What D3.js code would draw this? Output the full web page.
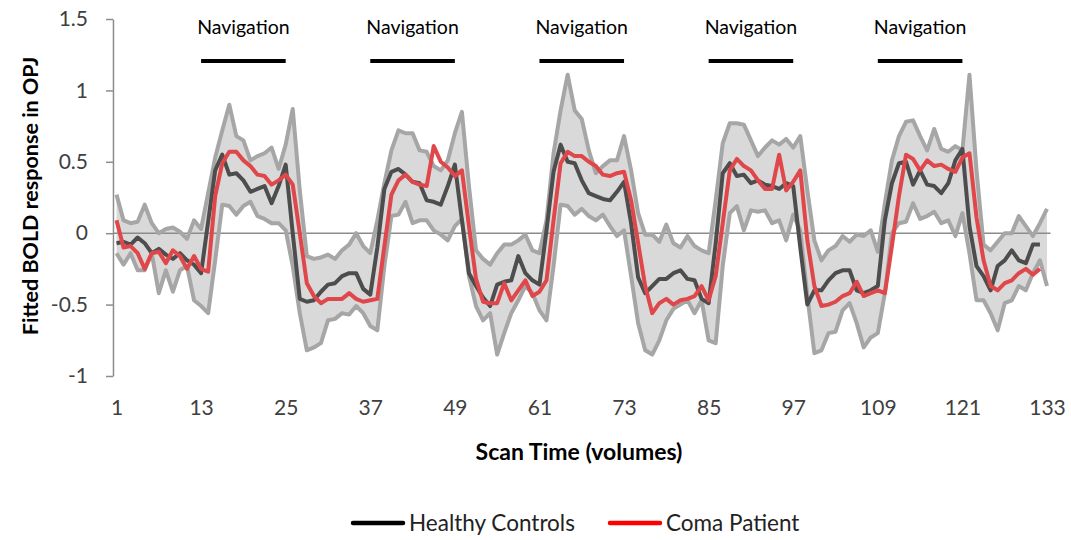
<!DOCTYPE html>
<html>
<head>
<meta charset="utf-8">
<title>Fitted BOLD response in OPJ</title>
<style>
  body, html { margin: 0; padding: 0; background: #fff; }
  #svg { display: block; font-family: Lato, "Open Sans", sans-serif; }
</style>
</head>
<body>
<svg id="svg" width="1071" height="540"></svg>
<script src="https://d3js.org/d3.v7.min.js"></script>
<script>
// x tick labels (scan volumes)
const xTicks = [1, 13, 25, 37, 49, 61, 73, 85, 97, 109, 121, 133]
const yTicks = [-1, -0.5, 0, 0.5, 1, 1.5]
// navigation blocks: start / end volume
const navStart = [13, 37, 61, 85, 109]
const navEnd = [25, 49, 73, 97, 121]

// healthy controls band (upper / lower), volumes 1..133
const upper = [0.27, 0.09, 0.07, 0.08, 0.2, 0.07, 0.0, 0.03, 0.04, 0.01, -0.04, 0.09, 0.03, 0.28, 0.53, 0.72, 0.9, 0.68, 0.65, 0.51,
  0.54, 0.56, 0.6, 0.45, 0.62, 0.87, 0.3, -0.16, -0.18, -0.17, -0.15, -0.18, -0.12, -0.08, 0.0, -0.09, -0.14, 0.09, 0.35, 0.58,
  0.72, 0.7, 0.7, 0.58, 0.57, 0.47, 0.44, 0.51, 0.7, 0.85, 0.33, -0.12, -0.18, -0.22, -0.14, -0.08, -0.08, -0.05, -0.01, -0.12,
  -0.14, 0.09, 0.56, 0.86, 1.11, 0.86, 0.8, 0.58, 0.42, 0.47, 0.51, 0.51, 0.68, 0.44, 0.14, -0.01, -0.01, -0.06, 0.06, -0.07,
  -0.1, -0.02, -0.09, -0.12, -0.14, 0.23, 0.63, 0.77, 0.77, 0.76, 0.65, 0.54, 0.6, 0.65, 0.62, 0.66, 0.6, 0.68, 0.3, -0.05,
  -0.19, -0.12, -0.09, -0.02, -0.06, -0.01, -0.02, 0.02, -0.13, 0.21, 0.51, 0.68, 0.78, 0.79, 0.68, 0.58, 0.73, 0.59, 0.57, 0.61,
  0.58, 1.11, 0.44, -0.08, -0.12, -0.06, 0.0, 0.0, 0.12, 0.05, -0.02, 0.07, 0.17]
const lower = [-0.14, -0.22, -0.14, -0.26, -0.26, -0.14, -0.42, -0.26, -0.41, -0.26, -0.23, -0.47, -0.51, -0.56, -0.19, 0.2, 0.19, 0.13, 0.19, 0.22,
  0.12, 0.1, 0.07, 0.07, 0.02, -0.23, -0.56, -0.82, -0.8, -0.77, -0.61, -0.6, -0.56, -0.57, -0.51, -0.56, -0.65, -0.68, -0.23, 0.12,
  0.13, 0.22, 0.07, 0.09, 0.09, 0.02, -0.01, -0.05, 0.05, 0.1, -0.3, -0.51, -0.61, -0.56, -0.85, -0.7, -0.56, -0.47, -0.37, -0.42,
  -0.54, -0.61, -0.23, 0.2, 0.19, 0.13, 0.17, 0.12, 0.09, 0.13, 0.05, -0.02, 0.02, -0.3, -0.63, -0.82, -0.85, -0.75, -0.61, -0.53,
  -0.5, -0.47, -0.56, -0.47, -0.75, -0.77, -0.23, 0.14, 0.19, 0.02, 0.16, 0.15, 0.16, 0.07, 0.09, -0.05, 0.13, 0.02, -0.44, -0.84,
  -0.82, -0.7, -0.69, -0.54, -0.49, -0.63, -0.8, -0.73, -0.7, -0.42, 0.0, 0.07, 0.08, 0.21, 0.1, 0.12, 0.15, 0.07, 0.09, -0.02,
  0.14, -0.14, -0.47, -0.47, -0.56, -0.68, -0.49, -0.47, -0.37, -0.4, -0.28, -0.19, -0.37]
// healthy controls mean, volumes 1..132
const healthy = [-0.07, -0.06, -0.08, -0.03, -0.07, -0.14, -0.11, -0.15, -0.18, -0.14, -0.19, -0.22, -0.28, 0.08, 0.44, 0.55, 0.41, 0.42, 0.37, 0.29,
  0.31, 0.33, 0.21, 0.33, 0.48, 0.0, -0.46, -0.48, -0.47, -0.41, -0.36, -0.35, -0.3, -0.28, -0.28, -0.39, -0.43, -0.1, 0.31, 0.43,
  0.45, 0.41, 0.36, 0.35, 0.23, 0.22, 0.2, 0.33, 0.48, 0.09, -0.28, -0.37, -0.45, -0.51, -0.36, -0.34, -0.33, -0.16, -0.28, -0.33,
  -0.36, 0.02, 0.43, 0.62, 0.5, 0.49, 0.37, 0.28, 0.26, 0.24, 0.23, 0.29, 0.36, 0.07, -0.31, -0.42, -0.37, -0.32, -0.32, -0.28,
  -0.26, -0.32, -0.33, -0.46, -0.49, -0.07, 0.42, 0.49, 0.4, 0.41, 0.35, 0.37, 0.34, 0.33, 0.31, 0.35, 0.33, -0.1, -0.5, -0.4,
  -0.4, -0.33, -0.28, -0.26, -0.26, -0.4, -0.42, -0.4, -0.37, 0.09, 0.35, 0.49, 0.5, 0.34, 0.44, 0.34, 0.33, 0.28, 0.35, 0.51,
  0.59, 0.05, -0.23, -0.3, -0.4, -0.23, -0.19, -0.12, -0.19, -0.21, -0.08, -0.08]
// coma patient, volumes 1..132
const coma = [0.09, -0.1, -0.09, -0.14, -0.25, -0.14, -0.13, -0.21, -0.12, -0.16, -0.25, -0.16, -0.25, -0.27, 0.26, 0.49, 0.57, 0.57, 0.51, 0.47,
  0.41, 0.4, 0.34, 0.37, 0.41, 0.34, 0.0, -0.35, -0.44, -0.49, -0.46, -0.46, -0.46, -0.42, -0.46, -0.48, -0.47, -0.46, -0.09, 0.27,
  0.37, 0.41, 0.36, 0.34, 0.33, 0.61, 0.5, 0.46, 0.4, 0.44, 0.05, -0.32, -0.48, -0.49, -0.49, -0.35, -0.47, -0.4, -0.33, -0.44,
  -0.41, -0.33, 0.09, 0.49, 0.57, 0.54, 0.54, 0.5, 0.47, 0.41, 0.4, 0.42, 0.43, 0.23, -0.07, -0.37, -0.56, -0.49, -0.46, -0.5,
  -0.47, -0.46, -0.44, -0.37, -0.47, -0.3, 0.07, 0.44, 0.52, 0.47, 0.44, 0.37, 0.31, 0.31, 0.55, 0.3, 0.36, 0.44, -0.05, -0.37,
  -0.51, -0.5, -0.48, -0.44, -0.42, -0.34, -0.44, -0.42, -0.4, -0.42, -0.09, 0.26, 0.55, 0.52, 0.44, 0.51, 0.47, 0.48, 0.45, 0.43,
  0.53, 0.56, 0.11, -0.19, -0.37, -0.4, -0.35, -0.33, -0.28, -0.25, -0.29, -0.25]

const svg = d3.select('#svg')

const x = d3.scaleLinear().domain([1, 133]).range([116.5, 1047])
const y = d3.scaleLinear().domain([-1, 1.5]).range([376, 19])

// grey band between upper and lower
const area = d3.area()
  .x((d, i) => x(i + 1))
  .y0((d, i) => y(lower[i]))
  .y1(d => y(d))

svg.append('path')
  .attr('d', area(upper))
  .attr('fill', '#d9d9d9')

// zero line
svg.append('line')
  .attr('x1', x(0.5)).attr('x2', x(133.5))
  .attr('y1', y(0)).attr('y2', y(0))
  .attr('stroke', '#8c8c8c')
  .attr('stroke-width', 1.5)

const line = d3.line()
  .x((d, i) => x(i + 1))
  .y(d => y(d))

const series = [
  { data: upper, color: '#a6a6a6' },
  { data: lower, color: '#a6a6a6' },
  { data: healthy, color: '#4d4d4d' },
  { data: coma, color: '#e0474a' }
]
series.forEach(s => {
  svg.append('path')
    .attr('d', line(s.data))
    .attr('fill', 'none')
    .attr('stroke', s.color)
    .attr('stroke-width', 4)
    .attr('stroke-linejoin', 'round')
})

// y axis
const yAxis = svg.append('g')
  .attr('transform', `translate(${x(0.5)},0)`)
  .call(d3.axisLeft(y).tickValues(yTicks).tickSize(7).tickSizeOuter(0).tickPadding(18)
    .tickFormat(d => String(d)))
yAxis.selectAll('path, line').attr('stroke', '#8c8c8c').attr('stroke-width', 1.5)
yAxis.selectAll('text')
  .attr('fill', '#404040')
  .style('font-size', '21px')
  .style('font-family', 'Lato, sans-serif')

// x axis labels only
const xAxis = svg.append('g')
  .attr('transform', 'translate(0,396)')
  .call(d3.axisBottom(x).tickValues(xTicks).tickSize(0).tickPadding(4))
xAxis.select('.domain').remove()
xAxis.selectAll('text')
  .attr('fill', '#404040')
  .style('font-size', '21px')
  .style('font-family', 'Lato, sans-serif')

// axis titles
svg.append('text')
  .attr('x', 579).attr('y', 460)
  .attr('text-anchor', 'middle')
  .style('font-size', '23px')
  .style('font-weight', 'bold')
  .text('Scan Time (volumes)')

svg.append('text')
  .attr('transform', 'translate(38,196) rotate(-90)')
  .attr('text-anchor', 'middle')
  .style('font-size', '21.5px')
  .style('font-weight', 'bold')
  .text('Fitted BOLD response in OPJ')

// navigation blocks
navStart.forEach((s, i) => {
  svg.append('line')
    .attr('x1', x(s)).attr('x2', x(navEnd[i]))
    .attr('y1', 61).attr('y2', 61)
    .attr('stroke', '#000')
    .attr('stroke-width', 4)
  svg.append('text')
    .attr('x', (x(s) + x(navEnd[i])) / 2)
    .attr('y', 34)
    .attr('text-anchor', 'middle')
    .style('font-size', '19.5px')
    .text('Navigation')
})

// legend
const legend = [
  { label: 'Healthy Controls', color: '#000', x0: 353 },
  { label: 'Coma Patient', color: '#f00', x0: 610 }
]
legend.forEach(l => {
  svg.append('line')
    .attr('x1', l.x0).attr('x2', l.x0 + 50)
    .attr('y1', 523).attr('y2', 523)
    .attr('stroke', l.color)
    .attr('stroke-width', 4.5)
    .attr('stroke-linecap', 'round')
  svg.append('text')
    .attr('x', l.x0 + 56).attr('y', 531)
    .style('font-size', '22.5px')
    .attr('fill', '#222')
    .text(l.label)
})
</script>
</body>
</html>
